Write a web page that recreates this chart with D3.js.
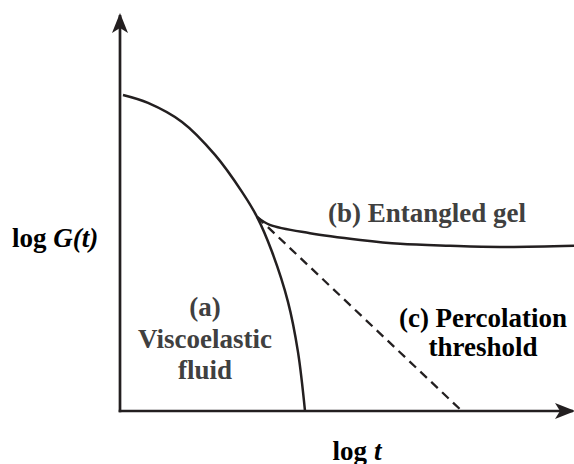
<!DOCTYPE html>
<html><head><meta charset="utf-8">
<script src="https://cdn.jsdelivr.net/npm/d3@7"></script>
<style>html,body{margin:0;padding:0;background:#fff;}svg{display:block;}
#wrap{position:relative;width:574px;height:464px;overflow:hidden;}
.lbl{position:absolute;width:300px;text-align:center;white-space:nowrap;
 font-family:"Liberation Serif","Times New Roman",serif;font-weight:bold;font-size:27px;line-height:27px;}
</style>
</head><body>
<div id="wrap"><svg id="chart" width="574" height="464" font-family="Liberation Serif"></svg></div>
<script>
// Schematic data (log t, log G) in arbitrary units 0..100
const curveA_x = [0.66, 6.17, 13.66, 20.93, 26.87, 30.18, 33.48, 37.0, 39.2, 40.75];
const curveA_y = [79.6, 77.6, 72.8, 64.5, 55.2, 48.9, 40.1, 27.5, 14.9, 0];
const curveB_x = [30.18, 33.0, 41.85, 52.9, 61.7, 72.7, 83.7, 100];
const curveB_y = [48.9, 46.9, 44.8, 43.1, 42.1, 41.6, 41.3, 41.6];
const curveC_x = [30.18, 75.3];
const curveC_y = [48.9, 0];
const labelsA = ["(a)", "Viscoelastic", "fluid"];
const labelsB = ["(b) Entangled gel"];
const labelsC = ["(c) Percolation", "threshold"];

const svg = d3.select("#chart");
const wrap = d3.select("#wrap");
const x = d3.scaleLinear().domain([0, 100]).range([120, 574]);
const y = d3.scaleLinear().domain([0, 100]).range([411, 14]);
const ink = "#231f20";

function addText(px, py, anchor, color) {
  return svg.append("text").attr("x", px).attr("y", py).attr("text-anchor", anchor)
    .attr("font-family", "Liberation Serif").attr("font-weight", "bold").attr("font-size", 27)
    .attr("fill", color);
}
function tsp(sel, s, italic) {
  const t = sel.append("tspan").text(s);
  if (italic) t.attr("font-style", "italic");
  return t;
}

const defs = svg.append("defs");
defs.append("marker").attr("id", "arr").attr("viewBox", "0 0 20 16")
  .attr("refX", 18).attr("refY", 8).attr("markerWidth", 20).attr("markerHeight", 16)
  .attr("markerUnits", "userSpaceOnUse").attr("orient", "auto")
  .append("path").attr("d", "M0,0 L20,8 L0,16 L5,8 Z").attr("fill", ink);

svg.append("line").attr("x1", x(0)).attr("y1", y(0) + 1.3).attr("x2", x(0)).attr("y2", y(100) + 1)
  .attr("stroke", ink).attr("stroke-width", 2.7).attr("marker-end", "url(#arr)");
svg.append("line").attr("x1", x(0) - 1.3).attr("y1", y(0)).attr("x2", x(100) - 1).attr("y2", y(0))
  .attr("stroke", ink).attr("stroke-width", 2.7).attr("marker-end", "url(#arr)");

const line = d3.line().x(d => x(d[0])).y(d => y(d[1])).curve(d3.curveCatmullRom.alpha(0.5));
const zip = (a, b) => a.map((v, i) => [v, b[i]]);

svg.append("path").attr("d", line(zip(curveA_x, curveA_y)))
  .attr("fill", "none").attr("stroke", ink).attr("stroke-width", 2.5);
svg.append("path").attr("d", line(zip(curveB_x, curveB_y)))
  .attr("fill", "none").attr("stroke", ink).attr("stroke-width", 2.5);
svg.append("path").attr("d", d3.line().x(d => x(d[0])).y(d => y(d[1]))(zip(curveC_x, curveC_y)))
  .attr("fill", "none").attr("stroke", ink).attr("stroke-width", 2.3).attr("stroke-dasharray", "9,6");

// region labels as HTML text, positioned by baseline (Liberation Serif ascent offset ~22.6px)
function htmlLabel(s, cx, baseline, color) {
  wrap.append("div").attr("class", "lbl")
    .style("left", (cx - 150) + "px").style("top", (baseline - 22.6) + "px")
    .style("color", color).text(s);
}
labelsA.forEach((s, i) => htmlLabel(s, 205, 317 + i * 31.5, "#404040"));
labelsB.forEach((s) => htmlLabel(s, 427, 223, "#404040"));
labelsC.forEach((s, i) => htmlLabel(s, 483, 328 + i * 29, "#000"));

const ty = addText(12, 247, "start", "#000");
tsp(ty, "log ");
tsp(ty, "G(t)", true);
const tx = addText(357, 460, "middle", "#000");
tsp(tx, "log ");
tsp(tx, "t", true);
</script>
</body></html>
